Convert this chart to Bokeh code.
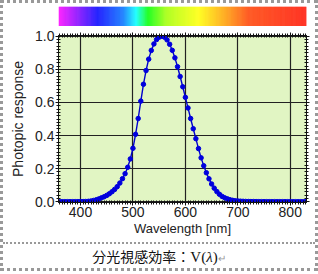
import numpy as np
from bokeh.plotting import figure
from bokeh.layouts import column
from bokeh.models import (Range1d, LinearAxis, SingleIntervalTicker, PrintfTickFormatter, Div,
                          Grid, CustomJSTickFormatter)
from bokeh.embed import file_html
from bokeh.resources import INLINE

# CIE photopic luminous efficiency V(lambda), 5 nm steps
wavelength = [360, 365, 370, 375, 380, 385, 390, 395, 400, 405, 410, 415, 420, 425, 430, 435,
              440, 445, 450, 455, 460, 465, 470, 475, 480, 485, 490, 495, 500, 505, 510, 515,
              520, 525, 530, 535, 540, 545, 550, 555, 560, 565, 570, 575, 580, 585, 590, 595,
              600, 605, 610, 615, 620, 625, 630, 635, 640, 645, 650, 655, 660, 665, 670, 675,
              680, 685, 690, 695, 700, 705, 710, 715, 720, 725, 730, 735, 740, 745, 750, 755,
              760, 765, 770, 775, 780, 785, 790, 795, 800, 805, 810, 815, 820, 825, 830]
response = [0.0000039, 0.0000070, 0.0000124, 0.000022, 0.000039, 0.000064, 0.00012, 0.000217,
            0.000396, 0.00064, 0.00121, 0.00218, 0.004, 0.0073, 0.0116, 0.01684,
            0.023, 0.0298, 0.038, 0.048, 0.06, 0.0739, 0.091, 0.1126, 0.139, 0.1693,
            0.208, 0.2586, 0.323, 0.4073, 0.503, 0.6082, 0.71, 0.7932, 0.862, 0.9149,
            0.954, 0.9803, 0.995, 1.0, 0.995, 0.9786, 0.952, 0.9154, 0.87, 0.8163,
            0.757, 0.6949, 0.631, 0.5668, 0.503, 0.4412, 0.381, 0.321, 0.265, 0.217,
            0.175, 0.1382, 0.107, 0.0816, 0.061, 0.0446, 0.032, 0.0232, 0.017, 0.0119,
            0.0082, 0.0057, 0.0041, 0.0029, 0.0021, 0.0015, 0.001, 0.00074, 0.00052, 0.00036,
            0.00025, 0.00017, 0.00012, 0.000085, 0.00006, 0.000042, 0.00003, 0.000021, 0.000015,
            0.00001, 0.000007, 0.000005, 0.0000037, 0.0000026, 0.0000019, 0.0000013, 0.0000009,
            0.0000007, 0.0000005]

x_ticks_interval = 100
y_ticks_interval = 0.2
x_label = "Wavelength [nm]"
y_label = "Photopic response"

# spectrum bar colour stops (wavelength -> colour)
spec_stop_wl = [358, 396, 433, 481, 506, 529, 563, 592, 625, 675, 721, 835]
spec_stop_rgb = [(255, 0, 255), (128, 0, 255), (0, 0, 255), (0, 112, 255), (0, 255, 255),
                 (0, 255, 0), (160, 255, 0), (208, 255, 0), (255, 255, 0), (255, 160, 0),
                 (255, 64, 0), (255, 16, 0)]

X0, X1 = 358, 831
PAD = 3
W = 318 - 2 * PAD

xr = Range1d(X0, X1)

# ---- spectrum bar ----
spec = figure(width=W, height=23, x_range=xr, y_range=Range1d(0, 1),
              x_axis_type=None, y_axis_type=None, toolbar_location=None,
              output_backend="svg", min_border_left=55, min_border_right=9,
              min_border_top=3, min_border_bottom=0)
spec.outline_line_color = None
spec.grid.visible = False
edges = np.arange(X0, X1 + 1, 1.0)
mids = edges[:-1] + 0.5
r = np.interp(mids, spec_stop_wl, [c[0] for c in spec_stop_rgb])
g = np.interp(mids, spec_stop_wl, [c[1] for c in spec_stop_rgb])
b = np.interp(mids, spec_stop_wl, [c[2] for c in spec_stop_rgb])
cols = ["#%02x%02x%02x" % (int(a), int(bb), int(c)) for a, bb, c in zip(r, g, b)]
spec.quad(left=edges[:-1], right=edges[1:] + 0.3, bottom=0, top=1, fill_color=cols,
          line_color=None)

# ---- main plot ----
p = figure(width=W, height=216, x_range=xr, y_range=Range1d(-0.005, 1.005),
           toolbar_location=None, output_backend="svg",
           min_border_left=55, min_border_right=9, min_border_top=9, min_border_bottom=40,
           x_axis_location=None, y_axis_location=None)
p.background_fill_color = "#e1f5c3"
p.border_fill_color = "white"
p.outline_line_color = "#111111"
p.outline_line_width = 1

xt = SingleIntervalTicker(interval=x_ticks_interval, num_minor_ticks=20)
yt = SingleIntervalTicker(interval=y_ticks_interval, num_minor_ticks=10)
blank = CustomJSTickFormatter(code="return ''")


def style_axis(ax, labels=True):
    ax.axis_line_color = "#111111"
    ax.major_tick_line_color = "#111111"
    ax.minor_tick_line_color = "#111111"
    ax.major_tick_in = 0
    ax.major_tick_out = 3
    ax.minor_tick_in = 2
    ax.minor_tick_out = 2
    ax.major_label_text_font = "Liberation Sans"
    ax.major_label_text_font_size = "14px"
    ax.major_label_text_color = "#222222"
    ax.major_label_standoff = 1 if labels else 0
    ax.axis_label_text_font = "Liberation Sans"
    ax.axis_label_text_font_style = "normal"
    ax.axis_label_text_color = "#222222"


xb = LinearAxis(ticker=xt, axis_label=x_label)
style_axis(xb)
xb.axis_label_text_font_size = "13px"
xb.axis_label_standoff = 1
p.add_layout(xb, "below")

xa = LinearAxis(ticker=xt, formatter=blank)
style_axis(xa, labels=False)
p.add_layout(xa, "above")

yl = LinearAxis(ticker=yt, axis_label=y_label, formatter=PrintfTickFormatter(format="%.1f"))
style_axis(yl)
yl.axis_label_text_font_size = "14px"
yl.axis_label_standoff = 6
p.add_layout(yl, "left")

yr = LinearAxis(ticker=yt, formatter=blank)
style_axis(yr, labels=False)
p.add_layout(yr, "right")

p.add_layout(Grid(dimension=0, ticker=xt, grid_line_color="#222222", grid_line_width=1.2))
p.add_layout(Grid(dimension=1, ticker=yt, grid_line_color="#222222", grid_line_width=1.2))

p.line(wavelength, response, line_color="#0000cc", line_width=1.4)
p.scatter(wavelength, response, size=4.5, fill_color="#0000dd", line_color="#0000dd")

caption = Div(
    text=('分光視感効率：'
          '<span style="font-family:\'Liberation Serif\';font-size:15px;">V(<i>λ</i>)</span>'
          '<span style="color:#999;font-size:10px;">↵</span>'),
    width=W, height=26,
    styles={"border-top": "2px dotted #999999", "text-align": "center",
            "font-family": "'Noto Sans CJK JP'", "font-size": "14px", "color": "#111111",
            "line-height": "24px", "margin": "0", "padding": "0"})

layout = column(spec, p, caption, spacing=0,
                styles={"border": "3px dotted #999999"})

open("out.html", "w").write(file_html(layout, INLINE))
